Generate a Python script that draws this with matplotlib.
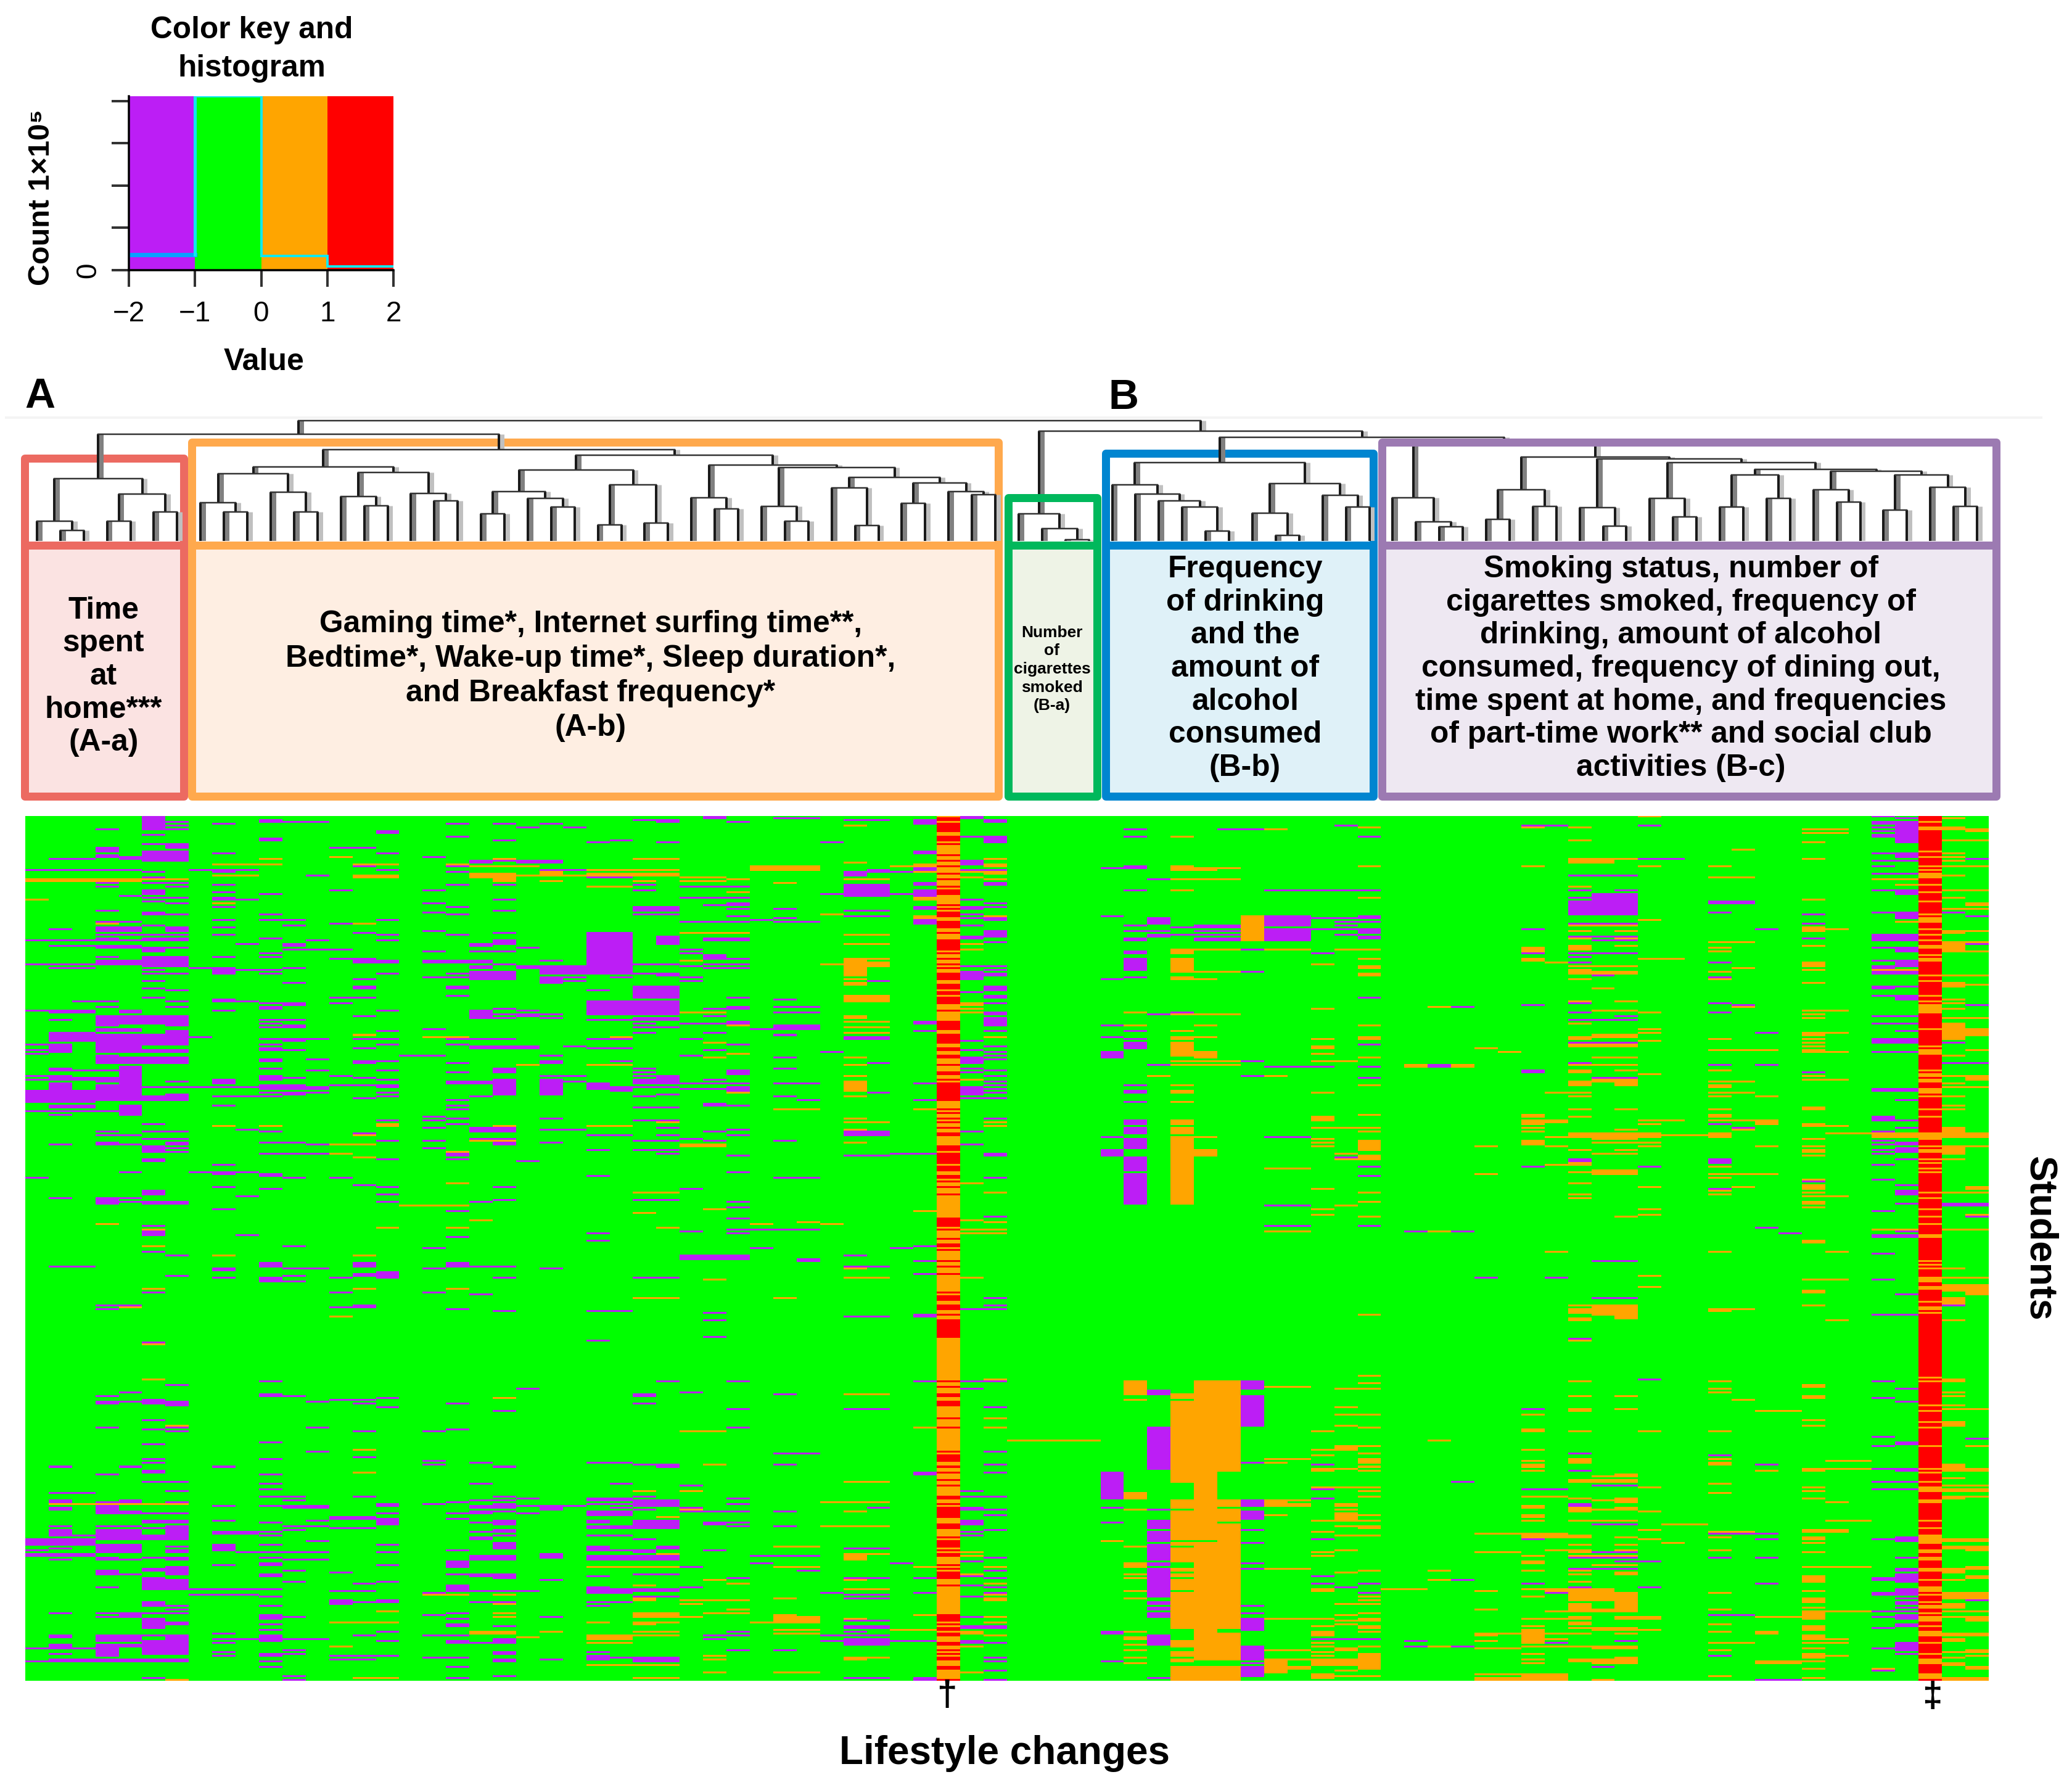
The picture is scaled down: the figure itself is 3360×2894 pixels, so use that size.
#!/usr/bin/env python3
"""Heatmap of lifestyle changes with colour key and column dendrogram."""

import numpy as np
import matplotlib
matplotlib.use('Agg')
import matplotlib.pyplot as plt
from matplotlib.colors import ListedColormap, BoundaryNorm
from matplotlib.patches import Rectangle

plt.rcParams['font.family'] = ['Liberation Sans', 'DejaVu Sans']

# ---- colour key ----
key_edges = [-2, -1, 0, 1, 2]
key_colors = ['#BC1EF5', '#00FF00', '#FFA500', '#FF0000']
hist_counts = [0.37, 4.11, 0.34, 0.09]

# ---- heatmap size ----
n_cols = 84
n_rows = 467

# runs: (first col, end col, first row, number of rows)
purple_a = [
    (5,6,0,8),(6,7,3,1),(6,7,5,1),(6,7,7,1),(3,4,7,1),(8,9,4,1),(10,11,2,2),(11,13,3,1),(18,19,4,1),(20,21,4,1),(21,22,6,1),(22,23,4,1),(23,24,6,1),(26,28,2,1),(27,28,3,1),
    (15,16,8,2),(5,6,10,1),(18,19,11,1),(10,11,12,2),(20,21,13,1),(25,26,13,1),(24,25,14,1),(27,28,14,1),(5,6,15,1),(6,7,15,3),(13,15,17,1),(3,4,17,3),(5,7,19,6),(3,4,21,2),(4,5,22,2),(1,3,23,1),
    (8,9,20,1),(15,16,20,1),(17,18,22,1),(19,20,24,2),(20,21,24,1),(21,23,24,2),(14,15,27,1),(18,19,27,1),(0,5,29,1),(7,10,29,1),(8,9,30,1),(5,6,30,1),(15,16,29,1),(18,19,30,1),(22,24,29,1),(12,13,32,1),(24,26,33,1),(5,6,33,1),
    (3,4,36,1),(5,7,36,1),(3,4,38,1),(6,7,38,1),(8,9,37,1),(18,19,37,1),(20,21,37,1),(26,27,37,1),(13,14,40,1),(17,18,40,1),(26,27,40,1),(5,6,40,3),(10,11,42,1),(8,9,41,1),(4,5,43,1),(5,7,44,1),(8,9,44,2),(9,10,45,1),(20,21,45,1),(5,6,46,1),(6,7,47,1),(17,18,47,1),
    (8,9,49,1),(18,19,49,1),(3,4,51,1),(20,21,51,1),(26,28,49,3),(17,18,52,1),(5,6,52,2),(6,7,53,1),(10,11,53,1),(18,19,53,1),(26,28,53,1),(8,9,56,1),(10,12,56,1),(15,16,56,1),(3,5,57,1),(13,14,58,1),(5,6,59,1),(11,12,59,1),(8,9,60,1),(6,7,60,3),(3,5,60,3),(1,2,61,1),
    (14,15,63,1),(17,18,62,1),(20,21,63,1),(3,7,64,1),(8,9,64,1),(15,16,64,1),(18,19,64,1),(10,11,66,1),(3,4,66,1),(0,7,67,1),(5,7,66,2),(12,13,67,1),(15,16,67,1),(11,12,69,2),(9,10,69,1),(19,20,69,2),(20,21,67,3),(1,3,70,1),(3,5,70,2),(6,7,71,1),(11,14,72,1),(21,22,71,1),(5,6,71,3),
    (17,18,73,1),(19,21,73,1),(10,11,74,1),(3,4,76,1),(8,9,76,1),(10,11,76,1),(5,6,76,3),(6,7,76,1),(6,7,77,1),(13,15,77,1),(14,16,78,2),(17,20,78,2),(22,23,78,1),(0,3,80,1),(3,5,78,3),(5,7,78,4),(1,3,82,1),(7,9,82,1),(11,12,82,1),(5,6,83,1),(8,9,83,3),(9,11,83,1),(5,7,85,1),(10,11,85,1),(15,16,85,1),(18,19,85,1),
    (24,26,63,23),(27,28,65,5),(26,28,80,1),(21,26,81,2),(22,24,83,3),(26,28,85,1),(19,21,84,5),(19,20,81,2),(20,21,80,1),(17,19,87,1),(27,28,86,1),(22,23,87,4),(23,24,87,1),(23,24,89,1),(25,26,87,1),(14,15,88,1),(5,6,89,1),(11,12,90,1),(5,6,93,1),(6,7,94,1),(14,15,92,2),(18,19,92,2),(24,25,94,1),(26,28,92,7),
    (18,19,97,1),(5,6,98,1),(13,15,98,1),(2,3,100,1),(3,4,100,1),(6,7,100,1),(8,9,99,2),(9,10,100,1),(10,12,101,1),(11,12,101,2),(13,14,101,1),(24,28,100,8),(3,4,103,1),(6,7,103,1),(4,5,105,2),(1,3,105,2),(0,1,105,1),(8,9,105,1),(10,11,103,2),(15,16,105,1),(19,20,105,1),(20,21,104,1),(21,22,105,1),(14,15,108,1),(19,20,106,3),(20,23,107,1),(21,22,108,1),(22,23,109,1),(19,21,109,1),
    (3,4,108,6),(4,5,108,5),(5,7,108,3),(6,7,110,4),(5,6,111,2),(1,2,110,1),(10,12,110,1),(10,11,112,1),(10,11,114,1),(11,12,113,2),(24,26,110,1),(26,28,109,2),(26,27,112,1),(26,28,114,1),
    (3,5,115,2),(6,7,116,2),(1,3,117,5),(3,7,118,6),(17,18,115,1),(15,16,116,1),(26,27,117,1),(7,8,119,1),(10,13,120,1),(11,12,121,1),(14,16,120,1),(18,21,120,1),(24,26,120,1),(0,1,123,1),(1,2,123,5),(15,16,123,1),(10,11,123,1),(18,19,123,1),(19,22,124,2),(14,15,125,1),(10,11,125,2),(11,12,126,1),(23,24,124,1),(24,26,125,1),(0,1,126,1),(0,1,128,1),
    (3,5,124,4),(5,7,126,2),(3,4,129,5),(4,7,130,4),(16,18,129,1),(10,11,131,1),(12,13,131,1),(10,11,132,1),(14,15,132,2),(15,16,132,1),(18,19,133,1),(22,23,129,1),(22,23,132,2),(25,26,132,1),(10,11,136,1),(20,21,136,1),(26,27,136,1),(1,2,136,2),(12,13,137,1),(15,16,137,1),(18,19,138,1),(20,21,137,2),(26,27,138,1),(4,5,135,12),(2,4,137,1),
    (0,1,140,1),(1,2,140,3),(10,11,140,3),(11,12,141,1),(13,14,140,1),(14,15,141,1),(22,24,140,1),(26,27,140,1),(27,28,140,2),(2,4,141,1),(3,4,142,2),(0,3,142,1),(6,7,143,1),(8,9,142,3),(15,16,142,1),(18,20,143,2),(20,21,142,6),(22,23,142,9),(23,24,143,1),(26,28,142,3),(24,25,144,4),(25,26,146,3),(26,28,146,1),
    (5,10,146,1),(10,12,145,3),(12,13,146,2),(13,16,145,1),(15,16,146,1),(1,2,144,6),(3,5,145,8),(0,3,148,2),(0,3,150,1),(0,3,151,4),(3,7,151,3),(6,7,150,2),(10,13,149,1),(11,12,150,1),(15,16,149,1),(15,16,151,1),(14,15,152,1),(20,21,148,3),(19,20,151,1),(8,10,151,1),(10,11,151,1),(26,27,151,1),(27,28,150,1),(18,19,153,1),
    (8,9,156,1),(18,19,156,1),(4,5,156,6),(1,3,156,2),(0,4,159,1),(18,19,158,1),(1,2,161,1),(26,28,157,1),(17,18,162,1),(17,18,164,1),(18,19,163,1),(22,23,163,1),(26,28,164,1),(15,16,164,1),(5,6,166,1),(18,19,166,1),(17,18,168,1),(27,28,168,1),(19,21,168,3),(9,10,169,1),(22,24,169,1),(3,4,170,1),(5,7,170,1),(10,11,170,1),(14,15,171,1),(3,5,172,1),(24,26,172,1),(27,28,172,1),
    (5,7,174,1),(19,21,174,1),(15,16,175,1),(17,18,175,1),(26,28,175,1),(3,4,176,2),(4,5,177,1),(10,12,176,1),(12,13,177,1),(22,23,176,1),(20,21,176,2),(1,2,177,1),(6,7,176,2),(5,6,178,4),(6,7,179,1),(6,7,181,1),(17,18,179,1),(24,25,180,1),(26,28,180,1),(10,13,182,1),(27,28,182,1),(18,19,182,2),(15,16,185,1),(18,19,185,1),(5,6,185,2),(21,22,186,1),(8,9,188,1),(4,5,192,1),(7,10,192,1),(8,9,193,1),(10,11,193,2),(0,1,195,1),(11,12,195,1),(13,14,195,1),(24,25,194,1),
    (14,15,199,1),(8,9,200,1),(15,16,200,1),(20,21,200,1),(10,11,201,1),(5,6,202,3),(15,16,204,1),(9,10,205,1),(1,2,206,1),(3,4,206,4),(4,5,206,1),(4,5,208,1),(5,7,208,2),(20,21,207,1),(26,28,207,1),(15,16,208,1),(19,20,208,1),(8,9,212,1),(18,19,213,1),(5,6,221,1),(5,6,224,3),(9,10,226,1),(24,25,225,1),(24,25,229,1),(18,19,227,1),(11,12,232,1),(17,18,233,1),(5,6,235,1),(6,7,237,1),
    (1,3,243,1),(10,11,241,3),(11,13,244,1),(14,15,241,3),(17,18,244,1),(18,19,241,3),(19,21,243,1),(22,23,244,1),(8,9,244,2),(6,7,248,1),(8,9,249,1),(15,16,246,4),(14,15,247,2),(13,14,249,1),(10,11,249,3),(11,12,248,1),(11,12,251,1),(20,21,249,1),(26,28,249,1),(5,6,257,1),(13,14,257,1),(17,18,257,1),(19,20,258,1),(3,5,264,1),(3,4,266,1),(14,15,264,2),(13,14,265,1),(18,19,266,1),(20,21,267,1),(24,26,267,1),(24,25,283,1),(5,6,284,1),
    (10,11,305,1),(27,28,305,1),(6,7,307,1),(21,22,309,1),(4,5,311,1),(3,4,313,1),(10,11,312,2),(11,12,313,1),(26,27,312,2),(15,16,314,1),(13,15,315,1),(3,4,316,2),(4,5,316,1),(5,6,315,3),(6,7,316,3),(12,13,316,1),(14,15,317,1),(18,19,317,1),(26,27,317,1),(15,16,319,1),(20,21,321,1),(5,6,326,1),(6,7,330,1),(3,4,330,1),(12,13,330,1),(5,6,331,1),(18,19,331,1),(6,7,332,1),(14,15,332,1),(17,18,332,1),(10,11,338,1),(5,6,339,1),(12,13,343,1),(14,15,346,1),(5,6,347,1),(10,11,347,1),(17,18,348,1),(5,6,349,1),(19,20,349,1),(24,26,349,1),(17,18,350,1),(26,28,350,1),(1,2,351,1),(4,5,351,1),(8,9,351,1),(20,21,351,1),(27,28,351,1),(5,6,353,2),(3,4,355,1),(10,11,355,1),
    (5,7,359,1),(10,11,360,1),(19,20,360,1),(25,26,360,1),(10,11,363,1),(6,7,364,1),(1,3,365,1),(10,12,367,1),(14,15,367,1),(20,21,367,1),(26,27,367,1),(21,22,368,1),(24,26,368,2),(11,12,369,1),(19,21,369,1),(1,2,369,2),(4,5,369,2),(3,4,370,4),(6,7,370,1),(17,18,371,1),(18,19,370,1),(26,28,369,4),(24,26,371,1),(21,24,372,1),(22,23,372,3),(8,9,372,1),(10,11,372,1),(11,13,372,2),(15,16,371,2),(20,21,371,3),(19,20,372,2),(25,26,373,1),(26,27,374,1),(1,2,373,2),(3,4,374,1),(3,5,375,2),(5,7,376,1),(15,16,376,1),(18,19,376,1),(19,20,375,2),(20,21,375,1),(21,22,376,1),(24,26,375,3),
    (13,15,378,2),(15,16,379,1),(8,9,380,1),(12,13,380,1),(5,7,380,2),(15,16,380,3),(18,19,379,1),(19,20,381,1),(20,21,380,3),(24,25,380,2),(26,28,380,5),(24,26,383,2),(1,2,383,1),(3,5,383,1),(6,7,383,1),(10,11,381,1),(11,13,383,1),(6,7,384,1),(13,15,384,1),(1,2,385,4),(3,5,385,6),(5,6,384,1),(6,7,385,3),(8,10,386,2),(10,11,386,1),(11,12,385,1),(19,21,386,1),(20,21,385,2),(5,7,388,1),(2,3,388,1),(5,7,389,2),(10,11,388,1),(24,26,388,1),(20,21,388,1),(19,20,389,2),(0,3,390,4),(12,13,391,1),(26,27,390,1),(8,9,393,1),(10,11,393,1),(15,16,393,1),(20,21,392,4),
    (1,2,395,1),(3,5,393,5),(6,7,394,1),(6,7,396,2),(18,19,396,1),(8,9,394,3),(9,10,397,1),(10,13,397,1),(15,16,397,1),(24,25,394,3),(25,27,396,1),(27,28,394,2),(26,27,397,1),(0,1,396,1),(0,3,398,2),(22,23,398,3),(19,20,399,1),(19,21,400,2),(20,21,399,2),(24,28,399,3),(5,6,400,1),(10,11,400,1),(6,7,400,2),(11,13,401,1),(1,2,401,1),(4,5,401,1),(3,4,400,2),
    (8,9,404,1),(15,16,404,1),(10,11,403,2),(18,19,402,4),(11,12,407,1),(5,6,406,2),(6,7,405,5),(3,4,407,3),(4,5,409,1),(13,14,408,1),(10,11,409,2),(18,20,409,1),(20,21,409,3),(19,20,410,1),(24,25,410,1),(26,28,409,1),(11,12,413,1),(15,16,413,1),(14,15,414,1),(22,23,412,1),(5,6,411,7),(6,7,412,6),(3,4,416,1),(7,11,417,1),(18,19,415,4),(19,22,418,1),(13,15,418,1),(7,10,420,1),(10,11,421,1),(17,18,419,1),(24,25,416,1),(24,26,417,3),(26,28,417,2),(26,28,421,1),(24,26,424,1),(24,25,426,1),
    (13,14,423,3),(14,16,424,1),(15,16,423,1),(19,21,424,1),(5,6,424,3),(6,7,426,1),(10,11,426,1),(6,7,428,1),(1,2,430,1),(3,7,430,1),(4,5,430,3),(3,4,432,1),(10,12,432,1),(10,11,431,3),(17,18,431,1),(18,19,430,1),(18,19,433,1),(22,23,432,1),(5,6,433,6),(6,7,435,2),(10,11,436,1),(20,21,437,1),(18,19,436,1),(18,19,437,1),(10,11,439,1),(15,16,440,1),(8,9,441,1),(14,15,442,1),(17,19,442,1),(10,11,442,4),(11,13,444,1),(8,10,444,1),(3,5,442,4),(6,7,442,3),(5,6,442,1),(1,2,442,2),(6,7,445,1),(15,16,445,1),(20,21,444,1),
    (18,19,445,2),(19,21,446,1),(20,21,445,2),(8,9,446,1),(5,7,445,8),(3,4,447,7),(4,5,447,2),(0,1,449,1),(2,3,449,1),(1,2,447,3),(1,2,452,1),(8,9,451,1),(8,9,453,1),(10,11,452,2),(11,12,452,1),(11,12,450,1),(13,16,453,1),(24,25,451,1),(20,21,451,2),(24,25,453,3),(25,26,454,1),(26,28,454,3),(1,7,455,2),(0,1,456,1),(13,15,455,1),(17,19,454,1),(20,21,455,2),(22,23,455,1),(10,11,456,1),(10,11,459,1),(18,19,459,1),(5,6,465,1),(11,12,464,1),(20,21,464,1),(18,19,465,1),(11,12,466,1),
]
orange_a = [
    (13,14,22,1),(10,11,23,1),(20,21,23,1),(26,28,23,1),(8,11,26,1),(14,16,26,1),(18,19,26,1),(19,22,27,1),(24,28,29,1),(22,23,30,2),(24,28,31,1),(19,21,31,3),(20,21,34,2),(21,28,32,1),(8,10,32,1),(14,16,32,2),(5,7,34,1),(0,5,34,2),(22,23,35,1),(26,27,35,1),(24,26,38,1),(0,1,45,1),(8,9,47,1),(3,4,58,1),(14,15,58,1),(25,26,119,1),(14,15,118,1),(17,19,119,1),(21,22,134,1),(24,26,134,1),
    (27,28,165,1),(15,16,166,2),(8,9,167,1),(10,11,167,1),(20,21,167,1),(24,26,167,1),(14,15,172,1),(19,21,175,1),(13,15,177,1),(13,14,182,1),(18,19,181,1),(14,15,184,1),(18,19,198,1),(26,28,203,1),(16,19,210,1),(26,27,214,1),(19,20,218,1),(3,4,220,1),(15,16,222,1),(18,19,222,1),(27,28,222,1),(5,6,223,1),(5,6,232,1),(8,9,237,1),(14,15,237,1),
    (5,6,255,1),(14,15,255,1),(18,19,255,1),(26,28,260,1),(4,5,265,1),(13,14,270,1),(5,6,285,1),(5,6,304,1),(20,21,314,1),(6,7,329,1),(14,15,342,1),(14,15,354,1),(26,27,364,1),(1,7,371,1),(27,28,378,1),(27,28,398,1),(24,28,405,1),(26,27,415,1),(17,19,420,1),(20,21,420,1),(26,27,422,2),(20,21,425,1),(15,16,429,1),(20,21,430,1),(20,21,432,1),(26,28,430,3),(13,16,435,1),(24,25,435,1),(26,27,435,2),(27,28,435,1),(19,21,440,2),(22,23,440,1),(26,28,440,1),(21,22,443,1),(24,26,442,3),(26,28,442,1),(24,26,446,1),(13,14,448,1),(24,28,458,1),(14,16,465,1),(26,28,465,1),(6,7,466,1),
]
purple_mid = [
    (29,30,0,2),(30,31,3,1),(32,34,1,1),(35,37,2,1),(38,39,3,2),(34,35,14,1),(38,39,20,1),(36,37,29,2),(35,36,30,3),(37,38,30,1),(38,39,29,2),(35,37,37,7),(28,31,38,1),(38,39,37,1),(38,39,41,3),(34,36,42,1),(37,38,42,1),(28,31,44,1),(29,30,48,1),(30,31,47,2),(30,31,50,1),(32,33,50,1),(38,39,50,1),(35,37,51,1),(30,31,54,1),(35,37,54,1),(32,33,55,1),(31,32,56,1),(28,31,57,1),(32,34,57,1),(38,39,57,2),
    (29,31,66,2),(28,29,72,1),(28,29,74,1),(29,30,75,3),(30,31,77,1),(29,31,80,1),(29,31,82,1),(28,29,81,1),(28,29,87,1),(28,29,89,1),(36,37,89,1),(30,31,98,1),(32,33,99,1),(30,31,103,2),(32,34,103,1),(29,30,104,1),(32,34,106,1),(29,30,108,1),(28,31,112,1),(30,31,111,1),(31,32,115,1),(32,34,113,3),(29,30,117,1),(32,33,118,1),(28,29,120,1),(30,31,123,1),(29,30,126,1),(28,29,129,1),(32,33,130,1),(34,35,127,1),(35,37,119,2),(38,39,112,1),(38,39,116,1),(36,37,133,1),
    (32,33,136,1),(30,31,137,2),(30,31,139,1),(29,30,142,1),(28,31,144,1),(32,34,144,1),(38,39,144,1),(28,29,147,1),(29,30,147,1),(30,31,146,3),(36,37,149,1),(32,33,151,1),(33,34,153,1),(38,39,153,1),(29,30,155,2),(30,31,156,1),(35,37,170,3),(30,31,169,1),(30,31,172,1),(29,30,170,1),(28,29,174,1),(29,30,175,1),(32,33,175,1),(37,39,182,1),(30,31,183,1),(35,37,183,1),(30,31,192,1),(32,34,195,1),(28,29,201,1),(30,31,208,1),(30,31,211,1),(30,31,217,1),(30,34,223,1),(28,29,224,1),(30,31,225,1),(31,32,233,1),(37,38,233,1),(38,39,232,1),
    (28,31,237,3),(33,34,239,2),(35,36,237,1),(38,39,240,1),(35,37,243,1),(38,39,247,1),(29,30,268,1),(29,30,272,1),(29,30,281,1),(35,37,270,1),(38,39,270,1),(30,31,305,1),(38,39,305,1),(28,29,311,1),(32,33,312,1),(30,31,320,1),(35,37,320,1),(30,31,330,1),(32,34,344,1),(32,33,350,1),(38,39,355,1),(28,29,361,1),(30,31,368,1),(30,31,371,1),(28,29,373,1),(28,31,375,1),(32,33,375,1),(36,37,373,1),(29,30,381,2),(30,31,381,1),(30,31,383,1),(32,33,383,1),(35,37,395,1),(29,30,396,1),(31,34,399,1),(31,32,403,1),(37,38,403,1),(28,29,405,1),(33,34,407,1),(30,31,411,1),(35,37,411,1),(38,39,411,1),(28,29,416,1),(34,35,419,1),(38,39,419,1),(35,37,420,1),(35,37,422,1),(35,37,434,1),(35,37,437,2),(30,31,440,1),(35,36,440,1),(29,31,442,1),(34,37,442,1),(29,30,444,1),(34,35,445,1),(37,39,445,1),(35,37,444,4),(30,31,450,1),(32,33,450,1),(35,37,465,1),(38,39,465,1),
]
orange_mid = [
    (35,36,5,1),(35,36,25,1),(31,34,27,3),(37,39,27,1),(28,30,33,1),(28,30,35,1),(30,31,34,1),(32,33,36,1),(35,37,34,1),(30,31,41,1),(38,39,45,1),(34,35,53,1),(38,39,55,1),(28,31,63,1),(35,37,64,1),(35,37,69,1),(28,29,78,1),(34,35,80,1),(35,36,77,10),(36,37,77,1),(36,37,79,3),(35,36,88,1),(35,36,90,2),(35,37,97,4),(28,30,106,1),(35,36,108,1),(35,36,109,1),(30,31,113,1),(29,30,122,1),(30,31,128,1),(29,30,130,1),(35,37,111,1),(35,37,114,1),(35,37,117,1),(35,36,130,1),(35,36,134,1),(35,36,140,1),(35,36,143,6),(30,31,149,1),(35,36,151,1),(32,34,158,1),(38,39,158,1),(35,36,163,1),(35,37,165,1),(35,36,169,1),(28,30,177,2),(35,36,176,1),
    (29,30,212,1),(38,39,213,1),(31,32,220,1),(33,34,219,1),(34,35,220,1),(35,36,244,1),(35,37,249,1),(29,30,250,1),(32,33,260,1),(35,37,312,1),(28,30,332,1),(38,39,330,1),(29,30,350,1),(35,37,359,1),(28,29,364,1),(34,37,370,1),(28,29,374,1),(35,36,375,1),(34,37,383,1),(32,34,394,1),(35,36,398,4),(36,37,398,1),(32,34,405,1),(38,39,405,1),(29,30,412,1),(35,36,412,1),(30,31,414,1),(35,37,417,1),(32,33,422,1),(28,31,423,1),(28,29,425,1),(30,31,428,1),(29,31,430,1),(38,39,431,1),(32,33,431,3),(33,34,432,4),(28,29,432,1),(31,32,435,1),(32,33,434,2),(35,36,433,1),(32,34,439,1),(37,39,439,1),(32,34,441,1),(29,30,453,1),(29,30,455,1),(35,36,454,2),(36,37,454,1),(29,30,462,1),(32,34,462,1),
]
purple_b = [
    (40,41,0,2),(41,42,2,2),(38,39,2,2),(40,41,11,1),(41,42,11,4),(38,39,19,1),(40,41,24,3),(38,39,28,2),(40,41,29,1),(41,42,29,1),(38,39,36,1),(41,42,36,2),(38,39,40,3),(40,41,45,1),(41,42,47,1),(38,39,49,1),(40,41,49,2),(41,42,49,1),(40,41,53,1),(40,41,55,1),(41,42,55,2),(38,39,56,1),(38,39,58,1),(40,41,59,1),(41,42,62,4),(40,41,65,2),(41,42,68,1),(40,41,81,1),(41,42,81,1),(40,41,84,5),(41,42,85,2),(41,42,83,1),(40,41,95,1),(41,42,92,3),(41,42,97,2),(41,42,101,1),(41,42,106,2),(38,39,111,1),(41,42,109,5),(38,39,116,1),(41,42,116,1),(40,41,121,1),(41,42,124,1),(40,41,126,1),(41,42,127,1),(41,42,129,1),(41,42,131,1),(40,41,130,4),(40,41,136,1),(41,42,137,1),(40,41,138,1),(41,42,140,1),(41,42,143,1),(41,42,145,1),(38,39,144,1),(40,41,146,5),(41,42,147,1),(41,42,149,1),(40,41,152,1),(41,42,152,1),(38,39,153,1),(41,42,163,1),(40,41,170,1),(40,41,177,1),(41,42,182,2),(38,39,182,1),(41,42,195,1),(41,42,216,1),
    (41,42,260,1),(41,42,264,1),(40,42,266,1),(40,42,305,1),(40,41,309,1),(41,42,319,1),(41,42,343,1),(41,42,350,1),(41,42,354,1),(40,41,364,1),(40,42,367,1),(40,41,373,2),(41,42,374,1),(41,42,377,1),(40,41,380,3),(40,41,386,1),(41,42,385,1),(40,41,388,1),(41,42,400,1),(40,41,402,1),(41,42,407,1),(40,41,410,1),(41,42,411,1),(40,41,415,1),(41,42,416,1),(41,42,419,1),(40,41,421,1),(40,41,432,1),(40,42,437,2),(40,41,445,2),(41,42,446,1),(41,42,454,1),(41,42,456,1),(41,42,461,1),(41,42,466,1),(38,39,247,1),(38,39,269,1),(38,39,305,1),(38,39,354,1),(38,39,411,1),(38,39,419,1),(38,39,445,1),(38,39,466,1),
    (46,47,28,1),(47,48,27,2),(47,48,7,1),(47,48,11,1),(51,53,7,1),(56,57,5,1),(57,58,11,1),(64,65,5,1),(48,49,34,1),(47,48,40,1),(53,58,40,1),(46,47,54,1),(48,49,55,4),(47,48,59,1),(49,52,60,1),(50,52,59,2),(47,48,62,1),(48,49,62,1),(50,52,62,1),(48,49,64,1),(49,52,64,1),(48,49,65,1),(53,55,54,6),(53,55,61,7),(55,58,55,1),(57,58,54,2),(56,58,57,1),(56,57,59,1),(55,58,61,1),(57,58,61,3),(56,57,64,1),(57,58,65,2),(47,48,66,2),(50,52,66,2),(52,53,72,1),(47,48,73,2),(55,56,74,1),(64,65,74,1),(47,48,77,7),(52,53,84,1),(46,47,88,1),(47,48,87,1),(57,58,98,1),(61,62,103,1),(64,65,102,1),(48,49,107,1),(49,50,106,1),(46,47,113,1),(47,48,116,1),(46,47,119,1),(47,48,120,1),(47,48,122,4),(57,58,123,1),(46,47,127,4),(52,53,132,1),(48,49,134,1),(53,56,135,1),(57,58,135,1),(60,61,134,2),(64,65,138,1),(52,53,140,1),(57,58,141,1),(47,48,145,1),(47,48,148,2),(47,48,154,1),(47,48,164,3),(47,48,168,4),(46,47,173,1),(53,55,173,1),(46,47,180,4),(47,48,174,6),(47,48,184,8),(56,57,184,1),(64,65,189,1),(57,58,189,1),(47,48,193,17),(57,58,194,1),(53,55,210,1),(53,55,221,1),(57,58,221,1),(59,60,224,1),(61,62,224,1),
    (62,63,249,1),(52,53,305,5),(52,53,313,17),(48,49,310,3),(48,49,330,19),(48,49,349,4),(52,53,349,1),(55,56,350,1),(46,47,354,15),(61,62,359,1),(46,47,373,1),(46,47,381,1),(46,47,440,2),(46,47,456,1),(48,49,374,1),(48,49,380,5),(48,49,386,6),(48,49,393,9),(48,49,403,2),(48,49,406,16),(48,49,424,2),(48,49,427,2),(48,49,430,3),(48,49,442,6),(48,49,465,1),(52,53,369,4),(52,53,375,5),(52,53,385,1),(52,53,392,1),(52,53,403,1),(52,53,406,1),(52,53,426,1),(52,53,430,1),(52,53,433,7),(52,53,448,8),(52,53,457,1),(52,53,459,6),(55,56,363,1),(55,56,368,1),(55,56,390,1),(55,56,410,1),(55,56,414,1),(56,57,416,1),(55,58,444,1),(57,58,414,1),(57,58,419,1),(64,65,320,1),(64,65,363,1),(64,65,390,1),(64,65,414,1),(61,62,412,1),(59,60,445,1),(59,60,448,1),(61,62,448,1),
]
orange_b = [
    (41,42,23,1),(41,42,26,2),(38,39,26,1),(38,39,30,1),(40,41,30,1),(41,42,30,2),(40,41,33,1),(41,42,34,1),(38,39,44,1),(38,39,54,1),(41,42,54,1),(40,41,69,1),(40,41,72,1),(40,41,101,2),(40,41,104,1),(40,41,106,1),(41,42,119,1),(40,41,142,1),(38,39,158,1),(41,42,165,1),(41,42,167,1),(40,41,198,1),(41,42,203,1),(38,39,213,1),(40,41,218,1),(41,42,219,1),(40,41,223,1),(41,42,223,1),(40,41,225,1),(41,42,225,1),
    (40,41,249,1),(41,42,304,1),(41,42,325,1),(41,42,330,1),(40,41,397,1),(40,41,399,1),(41,42,405,1),(40,41,409,1),(41,42,414,1),(41,42,420,1),(41,42,422,2),(41,42,432,1),(41,42,435,1),(40,41,440,2),(41,42,442,1),(40,41,448,1),(40,41,462,1),(38,39,330,1),(38,39,405,1),(38,39,431,1),(38,39,439,1),
    (49,51,28,2),(51,52,28,1),(49,50,27,1),(49,50,11,1),(53,54,7,1),(57,58,6,1),(57,58,27,1),(64,65,27,1),(64,65,6,1),(49,52,34,1),(49,50,40,1),(57,58,44,1),(52,53,54,14),(49,50,72,3),(50,52,72,1),(53,55,72,1),(56,58,72,1),(64,65,72,1),(64,65,78,1),(49,50,77,8),(50,52,84,1),(57,58,77,1),(55,56,80,1),(57,58,81,2),(57,58,85,2),(49,50,87,2),(50,51,88,1),(55,56,104,1),(60,61,103,1),(47,48,106,1),(49,52,107,1),(47,48,113,1),(50,51,113,1),(57,58,113,1),(49,50,116,1),(49,50,119,2),(50,51,119,1),(49,50,120,1),(55,56,120,1),(57,58,119,2),(55,56,124,2),(49,50,122,8),(50,51,127,4),(55,56,128,1),(62,63,125,1),(63,64,127,1),(57,58,130,1),(49,52,132,1),(55,57,132,1),(49,52,134,1),(59,60,134,2),(61,62,134,2),(48,49,140,1),(53,54,140,1),(49,50,145,1),(57,58,145,1),(49,50,148,2),(55,56,149,1),(49,50,154,1),
    (57,58,161,1),(64,65,161,1),(55,56,162,3),(49,50,164,3),(64,65,164,3),(55,57,168,1),(57,58,168,1),(57,58,170,1),(64,65,170,1),(64,65,168,1),(49,50,168,4),(49,51,173,1),(55,56,174,1),(55,56,176,1),(55,56,178,1),(57,58,175,6),(64,65,175,3),(49,50,174,23),(50,51,180,4),(62,63,178,1),(57,58,183,3),(56,57,182,1),(56,57,185,1),(53,55,190,1),(49,50,193,17),(62,63,193,1),(55,56,201,1),(57,58,203,1),(57,58,208,1),(56,57,210,1),(55,56,212,1),(55,56,215,1),(57,58,216,1),(60,61,224,1),(53,55,224,1),
    (57,58,269,1),(47,48,305,8),(49,50,312,3),(47,48,315,1),(50,52,305,49),(49,50,316,44),(50,51,354,15),(53,55,308,1),(57,58,302,1),(57,58,306,1),(56,58,309,1),(42,46,337,1),(53,55,347,1),(53,54,349,1),(47,48,365,4),(60,61,337,1),(49,52,369,70),(49,52,424,15),(50,51,439,3),(50,52,441,15),(49,50,445,2),(49,50,447,2),(49,50,451,3),(49,50,455,2),(49,52,459,8),
    (53,54,369,4),(54,55,369,1),(53,55,371,2),(53,54,377,1),(53,55,406,1),(53,56,433,1),(53,55,450,1),(53,56,455,1),(53,54,456,7),(54,55,459,2),(55,56,332,1),(55,56,342,1),(55,56,345,1),(55,56,352,2),(55,58,362,1),(55,56,380,1),(55,56,386,1),(55,56,397,1),(55,56,399,1),(55,56,417,2),(55,56,437,1),(55,56,440,3),(55,56,446,1),(55,56,448,1),(55,56,451,1),(55,56,453,1),(55,58,455,4),(55,56,463,3),(56,57,319,1),(56,58,323,1),(56,57,329,1),(56,57,340,3),(56,57,352,1),(56,57,371,2),(56,57,374,1),(56,57,376,5),(56,58,380,1),(56,57,383,1),(56,57,388,1),(56,57,396,1),(56,57,408,1),(56,58,425,1),(56,57,431,1),(56,58,434,1),(56,57,436,1),(56,57,449,2),(56,57,461,1),(56,58,464,1),(57,58,330,1),(57,58,340,1),(57,58,344,1),(57,58,347,2),(57,58,349,1),(57,58,351,1),(57,58,353,1),(57,58,364,1),(57,58,367,1),(57,58,377,1),(57,58,383,2),(57,58,388,1),(57,58,407,1),(57,58,421,1),(57,58,423,1),(57,58,430,1),(57,58,433,2),(57,58,437,2),(57,58,440,1),(57,58,448,1),(57,58,452,2),(57,58,454,7),
    (46,47,391,1),(47,48,374,1),(47,48,394,1),(47,48,403,3),(47,48,409,1),(47,48,411,1),(47,48,418,1),(47,48,422,1),(47,48,440,1),(47,48,443,2),(47,48,447,1),(47,48,450,1),(47,48,454,1),(47,48,457,1),(64,65,323,1),(64,65,331,2),(64,65,342,1),(64,65,348,1),(64,65,350,2),(64,65,353,1),(64,65,367,1),(64,65,373,1),(64,65,377,2),(64,65,380,1),(64,65,387,3),(64,65,399,1),(64,65,402,2),(64,65,407,1),(64,65,417,1),(64,65,421,1),(64,65,437,1),(64,65,440,1),(64,65,442,2),(64,65,445,2),(64,65,448,1),(64,65,452,1),(64,65,455,1),(64,65,457,1),(64,65,463,2),(62,65,465,2),(60,61,407,1),(60,61,412,1),(60,61,448,1),(58,60,417,1),(62,64,387,1),(62,64,397,1),(62,63,418,1),(62,63,428,1),(62,63,441,2),(63,64,441,1),(62,63,445,1),(62,64,449,1),(62,64,463,1),
]
purple_c = [
    (79,80,0,1),(80,81,1,1),(64,66,5,1),(69,70,5,1),(79,80,3,2),(80,81,3,12),(79,80,6,1),(79,80,8,1),(79,80,10,2),(79,80,20,1),(80,81,20,3),(69,71,23,1),(83,84,23,1),(79,81,24,1),(79,80,27,1),(66,69,32,1),(79,81,31,1),(68,69,40,1),(66,67,40,1),(79,81,40,1),(80,81,41,2),(66,67,44,1),(67,69,42,9),(66,69,46,8),(72,74,46,2),(72,73,52,1),(79,81,52,1),(80,81,53,2),(82,83,52,1),(76,77,53,1),(83,84,54,1),(80,81,55,1),(66,69,58,1),(76,77,58,1),(74,75,61,1),(64,65,61,1),(66,69,65,1),(67,68,67,1),(68,69,67,1),(79,81,64,4),(79,80,67,1),(76,77,66,1),(79,80,71,1),(80,81,71,3),(83,84,69,1),(64,65,74,1),(66,69,74,1),(66,67,76,1),(66,67,79,1),(72,73,79,1),(79,81,78,1),(79,80,81,2),(80,81,79,3),(79,81,84,2),(67,68,86,1),(72,73,87,1),(79,80,92,2),(80,81,92,1),
    (79,81,97,1),(80,81,97,3),(66,67,101,1),(72,73,101,1),(73,74,102,1),(83,84,102,1),(64,65,102,1),(66,67,106,1),(72,73,106,1),(68,69,108,1),(79,81,108,1),(66,69,110,1),(79,81,112,1),(74,75,117,1),(80,81,116,1),(66,69,122,1),(79,81,120,3),(82,83,122,1),(79,81,127,1),(66,67,133,1),(72,73,134,1),(74,75,134,1),(82,84,133,1),(76,77,138,1),(64,65,137,1),(67,69,141,1),(79,81,147,2),(80,81,153,1),
    (79,80,162,3),(80,81,164,1),(72,73,166,1),(73,74,168,1),(80,81,168,1),(67,68,171,1),(79,80,170,1),(79,80,175,1),(79,80,177,1),(80,81,176,2),(80,81,179,3),(79,80,180,1),(79,80,182,1),(80,81,185,1),(66,67,185,2),(64,65,189,1),(69,70,189,1),(72,73,185,3),(76,77,197,1),(72,73,201,1),(79,80,188,1),(79,80,196,1),(80,81,199,1),(80,81,202,3),(80,81,209,1),(79,80,213,1),(82,84,209,2),(83,84,216,1),(74,75,222,1),(75,76,225,1),(80,81,224,1),(79,81,226,2),
    (79,80,236,1),(67,69,240,1),(65,66,249,1),(79,80,250,1),(67,69,260,1),(80,81,258,1),(82,83,264,1),(79,81,269,1),(66,67,282,1),(69,70,304,1),(79,80,305,1),(80,81,309,1),(79,80,314,1),(80,81,316,1),(64,65,320,1),(79,80,335,1),(83,84,336,1),(80,81,338,2),(79,80,340,1),(66,67,344,1),(72,73,345,1),(74,75,350,1),(66,67,353,1),(79,81,352,1),(80,81,353,1),(67,69,361,1),(79,81,359,1),(64,66,363,1),(79,81,363,1),(66,67,371,2),(67,69,382,1),(72,75,387,1),(74,75,390,1),(79,80,390,1),(80,81,389,3),(66,69,397,1),(66,69,400,1),(72,73,400,1),(74,75,400,1),(80,81,400,1),(66,69,406,1),(68,69,402,1),(69,70,402,1),(80,81,406,2),(80,81,409,2),(79,81,411,1),(74,75,414,1),(64,65,414,1),(80,81,413,1),(79,81,412,1),(66,67,416,1),(69,70,416,1),(80,81,417,4),(79,80,419,2),(80,81,422,1),(83,84,423,1),(80,81,424,2),(80,81,427,1),(65,66,419,1),(79,81,429,1),(72,74,431,1),(80,81,431,3),(79,80,432,1),(79,80,438,1),(80,81,436,2),(68,69,445,1),(65,66,446,1),(80,81,446,5),(79,81,449,1),(72,73,453,1),(80,81,452,1),(67,68,459,1),(79,80,461,1),(74,76,466,1),
]
orange_c = [
    (69,70,0,1),(82,83,1,1),(64,65,6,1),(66,67,6,1),(76,78,7,1),(76,78,9,1),(82,83,6,2),(83,84,7,2),(66,67,13,1),(76,77,14,1),(82,84,13,1),(73,74,18,1),(82,83,20,1),(82,83,22,1),(66,68,23,3),(67,69,23,1),(76,77,23,1),(82,83,24,1),(64,65,27,1),(69,70,27,1),(72,73,27,1),(82,84,27,1),(82,83,32,1),(72,74,33,1),(79,81,34,1),(66,67,38,1),(80,81,37,1),(82,84,40,1),(76,77,45,1),(82,83,44,1),(83,84,47,2),(82,84,50,1),(69,70,56,1),(80,81,57,1),(66,69,59,1),(76,77,60,3),(77,78,61,1),(66,67,62,1),(68,69,62,1),(82,84,62,1),(82,83,63,1),(66,67,66,1),(68,69,66,1),(72,74,68,1),(64,65,71,1),(66,67,70,3),(68,69,70,1),(72,73,71,1),(76,77,70,1),(82,84,68,1),(82,83,69,2),(64,65,73,1),(72,73,73,1),(83,84,73,1),(82,83,71,3),(64,65,77,1),(69,71,77,1),(65,66,79,1),(66,69,81,1),(73,74,82,1),(66,67,83,3),(67,69,84,2),(76,77,79,3),(72,73,84,1),(76,77,83,1),(79,81,83,1),(72,73,88,1),(66,67,88,1),(76,77,90,1),(82,83,90,3),(83,84,91,1),(82,84,86,1),(67,68,93,1),
    (66,67,100,1),(68,69,100,1),(73,74,103,1),(82,83,99,1),(82,83,101,1),(82,83,104,1),(67,69,105,1),(69,70,106,1),(76,78,105,1),(76,77,107,1),(76,77,109,1),(82,84,109,1),(66,67,112,1),(76,78,117,1),(76,77,118,1),(69,70,115,1),(67,69,118,2),(69,70,117,1),(66,67,119,2),(72,73,120,1),(76,77,120,1),(82,83,112,9),(83,84,115,4),(76,77,122,1),(69,70,121,1),(76,77,124,1),(66,69,123,2),(72,74,126,1),(74,75,126,1),(76,77,126,2),(83,84,126,1),(77,78,127,1),(67,69,130,1),(82,83,129,1),(66,69,134,1),(68,69,137,1),(66,67,137,2),(72,73,137,1),(69,70,139,1),(76,77,140,1),(82,83,140,1),(67,69,142,2),(83,84,140,3),(76,78,142,1),(82,83,144,1),(66,67,143,3),(72,74,143,1),(72,73,145,2),(68,69,144,2),(82,84,146,1),(72,74,149,1),(65,67,149,1),(72,73,151,1),(74,75,151,1),(66,67,151,1),(82,83,151,1),(72,73,158,1),(82,83,156,1),(76,77,157,2),(82,83,158,1),(66,67,158,1),(68,69,158,1),
    (64,65,162,1),(64,66,164,2),(66,67,162,1),(72,73,161,2),(72,74,164,1),(69,71,164,1),(69,70,166,1),(74,75,164,3),(76,77,166,2),(77,78,167,1),(64,65,168,1),(64,65,170,1),(73,74,169,1),(68,69,169,1),(82,83,168,5),(66,69,171,3),(69,70,171,3),(70,72,172,1),(72,73,171,3),(77,79,171,1),(79,84,171,3),(65,66,173,1),(67,69,174,1),(76,77,174,1),(67,69,176,1),(64,65,175,3),(65,66,178,1),(69,70,176,1),(69,70,178,1),(74,75,178,1),(76,77,178,1),(76,77,180,2),(82,83,178,5),(83,84,178,1),(66,67,180,1),(68,69,180,1),(67,69,182,1),(76,77,183,1),(82,83,185,1),(66,67,187,2),(65,66,188,1),(66,67,192,1),(67,69,191,3),(72,73,189,1),(72,74,193,1),(74,75,193,1),(72,73,195,1),(76,77,196,1),(76,77,199,3),(76,77,203,1),(76,78,205,1),(76,77,208,2),(76,77,211,1),(66,67,198,1),(66,67,204,1),(66,67,206,1),(69,70,200,1),(69,70,212,1),(68,69,216,1),(69,70,215,1),(73,74,200,1),(72,73,202,1),(72,73,204,1),(82,84,203,1),(83,84,200,2),(83,84,215,1),(79,81,223,1),(76,77,229,2),(82,84,223,1),
    (65,66,235,1),(72,73,235,1),(77,78,235,1),(69,70,248,1),(69,70,254,1),(76,78,250,1),(82,83,244,1),(82,84,249,1),(82,84,253,4),(83,84,257,2),(76,77,256,2),(67,69,264,6),(66,69,264,1),(66,67,266,3),(68,69,270,2),(66,67,271,2),(72,74,266,1),(72,73,267,1),(76,77,264,1),(82,83,260,4),(77,78,272,1),(82,83,272,1),(66,67,283,1),(66,67,305,1),(72,73,305,1),(76,77,307,2),(82,83,304,2),(72,73,309,1),(72,73,311,1),(82,83,311,1),(66,67,313,1),(68,69,313,1),(82,83,313,1),(76,77,313,2),(73,74,315,1),(82,83,318,1),(64,65,323,1),(66,67,320,2),(68,69,320,1),(74,76,321,1),(82,84,320,1),(76,77,326,1),(76,77,329,1),(64,65,331,2),(66,67,332,1),(69,70,332,1),(72,73,332,1),(82,83,327,3),(83,84,340,1),(64,65,342,1),(72,73,347,1),(72,73,349,2),(74,75,353,1),(64,65,348,1),(64,65,350,2),(64,65,353,1),(66,67,347,3),(67,68,356,1),(68,69,355,2),(77,79,348,1),(76,79,352,1),(76,77,352,2),(82,84,352,2),(82,83,350,3),(82,83,357,1),(66,69,358,2),(69,70,362,1),(72,73,360,1),(72,73,365,1),(76,77,362,1),(82,84,361,1),(65,66,367,1),(66,67,368,1),(67,68,369,1),(68,69,368,3),(76,77,364,1),(76,77,368,1),(77,78,370,1),(82,84,363,2),(82,83,368,1),(82,84,367,1),
    (64,65,372,1),(66,67,373,3),(67,69,374,1),(68,69,373,2),(69,70,375,1),(64,65,377,2),(64,65,380,1),(66,69,380,1),(70,72,382,1),(77,79,380,1),(76,78,385,2),(76,77,390,1),(72,74,386,1),(72,73,389,1),(69,70,385,1),(69,70,390,1),(70,71,392,1),(82,84,390,2),(66,67,388,2),(68,69,389,1),(64,66,387,3),(66,67,393,1),(68,69,393,1),(76,77,389,1),(76,77,392,1),(82,83,394,2),(83,84,394,3),(65,66,396,1),(66,67,396,2),(68,69,396,1),(66,69,399,1),(64,65,399,1),(64,65,402,2),(72,73,396,1),(76,77,397,1),(76,79,405,1),(66,67,407,1),(67,69,404,1),(68,69,408,1),(82,83,406,3),(83,84,405,2),(76,77,410,4),(66,67,409,1),(68,69,409,1),(82,83,412,1),(83,84,410,2),(66,67,413,1),(64,67,417,1),(66,68,417,7),(68,69,419,11),(66,67,425,4),(67,69,428,1),(65,66,418,1),(72,73,419,1),(76,77,418,1),(76,77,422,3),(76,77,427,1),(82,84,419,4),(82,83,425,3),(65,66,429,1),(66,69,429,1),(72,73,428,1),(76,79,429,1),(76,77,430,4),(74,76,432,1),(66,67,432,2),(68,70,432,2),(82,84,429,1),(82,83,432,1),(83,84,432,3),(64,66,433,1),(66,67,435,2),(66,69,438,1),(72,73,436,1),(72,73,440,1),(74,75,440,2),(76,77,437,3),(76,77,442,2),(67,70,439,1),(64,65,439,2),(64,66,441,1),(66,67,441,1),(68,69,441,1),(64,66,444,1),(64,66,448,1),(66,67,448,1),(67,69,448,2),(72,74,446,1),(76,78,444,1),(76,78,446,1),(76,77,449,1),(72,73,450,1),(82,84,441,2),(82,83,444,2),(64,65,452,1),(76,77,452,3),(77,78,453,1),(82,84,451,1),(83,84,450,1),(82,83,454,1),(83,84,453,1),(64,65,455,1),(66,67,455,1),(67,69,455,3),(68,69,454,2),(66,68,456,1),(76,77,456,1),(74,76,456,2),(82,83,457,2),(76,77,460,1),(79,80,460,1),(83,84,459,2),(64,66,463,4),(72,73,464,1),(76,77,465,1),(82,84,465,2),(67,68,466,1),
]
green_gaps = [
    (49,50,374,1),(51,52,373,1),(51,52,381,1),(49,51,391,1),(49,50,394,1),(49,50,403,3),(49,50,408,1),(49,50,411,1),(49,50,418,1),(51,52,456,1),(49,50,439,1),(51,52,439,1),
]

# column 39 is orange with red runs, column 81 is red with orange runs: (row, n)
col_39_red = [
    (1,2),(4,1),(5,4),(11,3),(15,1),(21,1),(24,1),(27,1),(31,1),(34,1),(38,1),(40,3),(48,1),(50,1),(52,3),(57,4),(63,1),(67,6),(74,1),(77,1),(80,1),(82,1),(85,4),(91,3),(95,2),(98,2),(100,2),(105,1),(111,5),(118,3),(121,2),(125,2),(129,2),(134,1),(138,2),(142,1),(144,10),(158,1),(160,1),(163,1),(165,1),(168,1),(171,2),(178,3),(182,6),(189,3),(194,2),(197,1),(200,1),(204,1),(217,5),(223,1),(228,1),(231,2),(234,1),(240,1),(243,1),(247,1),
    (257,1),(259,3),(264,3),(269,1),(272,10),(305,1),(308,1),(312,2),(316,3),(325,1),(330,1),(343,1),(345,4),(351,1),(354,1),(358,1),(361,1),(367,2),(371,1),(373,6),(382,3),(389,1),(391,4),(396,1),(398,2),(404,1),(406,1),(408,4),(415,1),(431,4),(436,1),(438,2),(441,2),(446,2),(450,1),(452,1),(454,2),(459,2),(466,1),
]
col_81_orange = [
    (3,1),(6,2),(19,1),(22,1),(27,1),(29,1),(31,3),(37,1),(41,1),(46,1),(53,1),(55,3),(61,1),(64,1),(67,1),(70,2),(75,1),(77,2),(86,1),(89,1),(97,1),(100,1),(102,5),(115,1),(124,1),(126,3),(137,1),(139,2),(142,2),(147,3),(151,1),(158,1),(162,1),(171,4),(178,1),(180,2),(185,1),(187,1),(190,1),(192,1),(203,1),(206,1),(212,1),(216,1),(220,1),(226,2),
    (240,1),(242,1),(244,1),(249,3),(254,2),(262,1),(265,2),(268,1),(303,1),(305,1),(318,1),(321,1),(327,1),(330,1),(340,1),(352,1),(354,1),(359,1),(362,3),(369,2),(380,1),(384,1),(388,5),(396,2),(400,2),(406,2),(412,1),(416,3),(420,1),(424,1),(426,2),(430,1),(432,3),(437,1),(440,3),(446,1),(452,1),(455,3),(463,3),
]

# ---- column dendrogram: (height, left, right), ints are columns ----
tree_a_a = (101, (32, 0, (17, 1, 2)), (76, (32, 3, 4), (47, 5, 6)))
tree_ab_1 = (120, (109, (62, 7, (47, 8, 9)), (79, 10, (47, 11, 12))),
             (111, (72, 13, (57, 14, 15)), (77, 16, (65, 17, 18))))
tree_ab_2 = (115, (80, (44, 19, 20), (69, 21, (55, 22, 23))), (91, (26, 24, 25), (29, 26, 27)))
tree_ab_3 = (123, (70, 28, (52, 29, 30)),
             (119, (56, 31, (32, 32, 33)),
              (103, (86, 34, (25, 35, 36)), (94, (61, 37, 38), (80, 39, (75, 40, 41))))))
tree_a = (173, tree_a_a, (148, tree_ab_1, (139, tree_ab_2, tree_ab_3)))
tree_b_a = (44, 42, (20, 43, (2, 44, 45)))
tree_b_b = (127, (91, 46, (76, 47, (65, 48, (55, 49, (16, 50, 51))))),
            (93, (45, 52, (9, 53, 54)), (74, 55, (55, 56, 57))))
tree_b_c = (160, (70, 58, (31, 59, (23, 60, 61))),
            (136, (83, (35, 62, 63), (56, 64, 65)),
             (133, (54, 66, (24, 67, 68)),
              (127, (69, 69, (39, 70, 71)),
               (116, (107, (55, 72, 73), (69, 74, 75)),
                (113, (83, 76, (63, 77, 78)),
                 (107, (50, 79, 80), (87, 81, (56, 82, 83)))))))))
tree_root = (195, tree_a, (178, tree_b_a, (168, tree_b_b, tree_b_c)))

# ---- cluster labels ----
label_a_a = 'Time\nspent\nat\nhome***\n(A-a)'
label_a_b = ('Gaming time*, Internet surfing time**,\nBedtime*, Wake-up time*, Sleep duration*,\n'
             'and Breakfast frequency*\n(A-b)')
label_b_a = 'Number\nof\ncigarettes\nsmoked\n(B-a)'
label_b_b = 'Frequency\nof drinking\nand the\namount of\nalcohol\nconsumed\n(B-b)'
label_b_c = ('Smoking status, number of\ncigarettes smoked, frequency of\ndrinking, amount of alcohol\n'
             'consumed, frequency of dining out,\ntime spent at home, and frequencies\n'
             'of part-time work** and social club\nactivities (B-c)')

W, H = 3360, 2894
PT = 0.72  # one pixel in points at dpi 100

fig = plt.figure(figsize=(W / 100, H / 100), dpi=100)


def px_axes(x0, y0, x1, y1, **kw):
    """Axes from pixel box, y measured from the top of the figure"""
    return fig.add_axes([x0 / W, 1 - y1 / H, (x1 - x0) / W, (y1 - y0) / H], **kw)


# --- heatmap
matrix = np.ones((n_rows, n_cols), dtype=int)
for runs, code in [(purple_a + purple_mid + purple_b + purple_c, 0),
                   (orange_a + orange_mid + orange_b + orange_c, 2),
                   (green_gaps, 1)]:
    for c0, c1, r0, n in runs:
        matrix[r0:r0 + n, c0:c1] = code
matrix[:, 39] = 2
for r0, n in col_39_red:
    matrix[r0:r0 + n, 39] = 3
matrix[:, 81] = 3
for r0, n in col_81_orange:
    matrix[r0:r0 + n, 81] = 2

cmap = ListedColormap(key_colors)
norm = BoundaryNorm([-0.5, 0.5, 1.5, 2.5, 3.5], cmap.N)
ax_heat = px_axes(41, 1323, 3225, 2725)
ax_heat.imshow(matrix, cmap=cmap, norm=norm, aspect='auto', interpolation='nearest',
               extent=[0, n_cols, n_rows, 0])
ax_heat.axis('off')

# --- back page: frames that the dendrogram lies on top of
ax_back = px_axes(0, 0, W, H, zorder=1)
ax_back.set_xlim(0, W)
ax_back.set_ylim(H, 0)
ax_back.axis('off')
ax_front = px_axes(0, 0, W, H, zorder=3)
ax_front.set_xlim(0, W)
ax_front.set_ylim(H, 0)
ax_front.axis('off')
ax_front.patch.set_alpha(0)

ax_back.plot([10, 3310], [677, 677], color='#F4F4F4', lw=4 * PT)


def cluster_box(ax, x0, x1, top, edge, fill, text, size, spacing, text_xy):
    bw = 13
    ax.add_patch(Rectangle((x0, 884), x1 - x0, 1291 - 884, fc=fill, ec='none', zorder=1))
    ax.add_patch(Rectangle((x0, top), x1 - x0, 1291 - top, fc='none', ec=edge, lw=bw * PT,
                           joinstyle='round', zorder=2))
    ax.plot([x0, x1], [884, 884], color=edge, lw=bw * PT, zorder=2, solid_capstyle='butt')
    ax_front.text(text_xy[0], text_xy[1], text, ha='center', va='center', fontsize=size,
                  fontweight='bold', linespacing=spacing, zorder=5)


cluster_box(ax_back, 305 + 6, 1619, 717, '#FFA94D', '#FEEEE2', label_a_b, 35.7, 1.27, (958, 1096))
cluster_box(ax_back, 40, 298, 743, '#EC6A61', '#FBE3E2', label_a_a, 35.7, 1.21, (168, 1097))
cluster_box(ax_back, 1793, 2227, 735, '#0085D0', '#DFF1F8', label_b_b, 35.7, 1.21, (2019, 1084))
cluster_box(ax_front, 1635, 1779, 807, '#00B85C', '#EEF3E6', label_b_a, 19, 1.3, (1706, 1085))
cluster_box(ax_front, 2241, 3237, 717, '#9C7AB2', '#EEE8F2', label_b_c, 35.7, 1.21, (2726, 1084))

# --- dendrogram
ax_dend = px_axes(41, 680, 3225, 877, zorder=2)
ax_dend.set_xlim(0, n_cols)
ax_dend.set_ylim(0, 197)
ax_dend.axis('off')
ax_dend.patch.set_alpha(0)


def draw_node(node):
    """Draws a subtree, gives back x and height of its top"""
    if isinstance(node, int):
        return node + 0.5, 0
    h, left, right = node
    xl, hl = draw_node(left)
    xr, hr = draw_node(right)
    for x, low, shade in [(xl, hl, '#808080'), (xr, hr, '#C0C0C0')]:
        ax_dend.plot([x + 0.1, x + 0.1], [low, h], color=shade, lw=9 * PT, solid_capstyle='butt', zorder=1)
        ax_dend.plot([x, x], [low, h], color='#1A1A1A', lw=4 * PT, solid_capstyle='butt', zorder=2)
    ax_dend.plot([xl, xr], [h, h], color='#333333', lw=2.5 * PT, solid_capstyle='projecting', zorder=3)
    return (xl + xr) / 2, h


draw_node(tree_root)

# --- colour key
ax_key = px_axes(209, 156, 638, 438)
ax_key.set_xlim(key_edges[0], key_edges[-1])
ax_key.set_ylim(0, hist_counts[1])
ax_key.bar(key_edges[:-1], [hist_counts[1]] * 4, width=1, align='edge', color=key_colors)
ax_key.step(key_edges[:2], hist_counts[:1] * 2, where='post', color='#0AA0FF', lw=7 * PT)
ax_key.stairs(hist_counts[1:], key_edges[1:], baseline=None, color='#10E8F0', lw=4 * PT)
ax_key.plot([-1, -1], [hist_counts[0], hist_counts[1]], color='#10E8F0', lw=5 * PT)
for s in ['top', 'right']:
    ax_key.spines[s].set_visible(False)
for s in ['left', 'bottom']:
    ax_key.spines[s].set_linewidth(3.5 * PT)
ax_key.set_xticks(key_edges)
ax_key.set_xticklabels(['\u22122', '\u22121', '0', '1', '2'], fontsize=33)
ax_key.set_yticks([0, 1, 2, 3, 4])
ax_key.set_yticklabels(['0', '', '', '', ''], fontsize=33, rotation=90, va='center')
ax_key.tick_params(axis='x', length=27 * PT, width=4 * PT, color='#333333', pad=22 * PT)
ax_key.tick_params(axis='y', length=28 * PT, width=4 * PT, color='#333333', pad=16 * PT)

ax_front.text(408, 80, 'Color key and\nhistogram', ha='center', va='center', fontsize=35.7,
              fontweight='bold', linespacing=1.43)
ax_front.text(428, 587, 'Value', ha='center', va='center', fontsize=36, fontweight='bold')
ax_front.text(68, 320, 'Count 1\u00d710\u2075', ha='center', va='center', rotation=90, fontsize=35,
              fontweight='bold')
ax_front.text(65, 643, 'A', ha='center', va='center', fontsize=49, fontweight='bold')
ax_front.text(1822, 645, 'B', ha='center', va='center', fontsize=49, fontweight='bold')

# --- bottom and side labels
ax_front.text(1535, 2750, '\u2020', ha='center', va='center', fontsize=42, fontweight='bold')
ax_front.text(3133, 2752, '\u2021', ha='center', va='center', fontsize=42, fontweight='bold')
ax_front.text(1629, 2843, 'Lifestyle changes', ha='center', va='center', fontsize=46, fontweight='bold')
ax_front.text(3307, 2008, 'Students', ha='center', va='center', rotation=270, fontsize=45, fontweight='bold')

fig.savefig('out.png', dpi=100, facecolor='white')
